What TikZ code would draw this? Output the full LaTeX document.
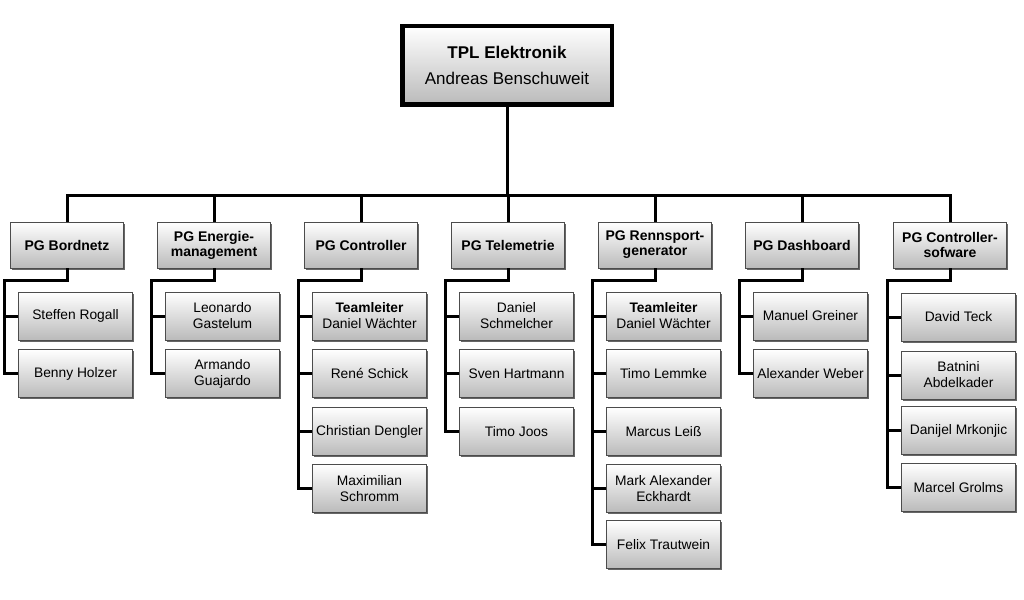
\documentclass[tikz,border=0pt]{standalone}
\usepackage{fontspec}
\setmainfont{Liberation Sans}
\usetikzlibrary{shadows,calc}
\begin{document}
\begin{tikzpicture}[x=1pt,y=-1pt,
  boxbase/.style={shape=rectangle, draw=black!70, line width=0.7pt,
    top color=white, bottom color=black!27,
    drop shadow={shadow xshift=1.8pt, shadow yshift=-1.8pt, fill=black!75, opacity=0.8},
    align=center, inner sep=0pt},
  grpbox/.style={boxbase, minimum width=113pt, minimum height=46pt,
    font=\fontsize{14}{15}\selectfont\bfseries},
  membox/.style={boxbase, minimum width=114pt, minimum height=48pt,
    font=\fontsize{13.8}{16}\selectfont},
  topbox/.style={shape=rectangle, draw=black, line width=4.5pt,
    top color=white, bottom color=black!27,
    drop shadow={shadow xshift=2pt, shadow yshift=-2pt, fill=black!60, opacity=0.6},
    minimum width=209.5pt, minimum height=78.5pt, align=center, inner sep=0pt,
    font=\fontsize{17}{25.5}\selectfont},
  conn/.style={line width=3pt, draw=black}]
\useasboundingbox (0,0) rectangle (1024,599);

% top
\node[topbox] (top) at (507,65.5) {\textbf{TPL Elektronik}\\Andreas Benschuweit};

% groups
\node[grpbox] (g1) at (67,245) {PG Bordnetz};
\node[grpbox] (g2) at (214,245) {PG Energie-\\management};
\node[grpbox] (g3) at (361,245) {PG Controller};
\node[grpbox] (g4) at (508,245) {PG Telemetrie};
\node[grpbox] (g5) at (655,245) {PG Rennsport-\\generator};
\node[grpbox] (g6) at (802,245) {PG Dashboard};
\node[grpbox] (g7) at (950,245) {PG Controller-\\sofware};

% members
\node[membox] (m11) at (75.5,316) {Steffen Rogall};
\node[membox] (m12) at (75.5,373.5) {Benny Holzer};

\node[membox] (m21) at (222.5,316) {Leonardo\\Gastelum};
\node[membox] (m22) at (222.5,373.5) {Armando\\Guajardo};

\node[membox] (m31) at (369.5,316) {\textbf{Teamleiter}\\Daniel Wächter};
\node[membox] (m32) at (369.5,373.5) {René Schick};
\node[membox] (m33) at (369.5,431.5) {Christian Dengler};
\node[membox] (m34) at (369.5,488.5) {Maximilian\\Schromm};

\node[membox] (m41) at (516.5,316) {Daniel\\Schmelcher};
\node[membox] (m42) at (516.5,373.5) {Sven Hartmann};
\node[membox] (m43) at (516.5,431.5) {Timo Joos};

\node[membox] (m51) at (663.5,316) {\textbf{Teamleiter}\\Daniel Wächter};
\node[membox] (m52) at (663.5,373.5) {Timo Lemmke};
\node[membox] (m53) at (663.5,431.5) {Marcus Leiß};
\node[membox] (m54) at (663.5,488.5) {Mark Alexander\\Eckhardt};
\node[membox] (m55) at (663.5,544.5) {Felix Trautwein};

\node[membox] (m61) at (810.5,316) {Manuel Greiner};
\node[membox] (m62) at (810.5,373.5) {Alexander Weber};

\node[membox] (m71) at (958.5,317) {David Teck};
\node[membox] (m72) at (958.5,375) {Batnini\\Abdelkader};
\node[membox] (m73) at (958.5,430.5) {Danijel Mrkonjic};
\node[membox] (m74) at (958.5,487.5) {Marcel Grolms};

% bus
\coordinate (bus) at (507,195);
\draw[conn] (top.south) -- (bus);
\draw[conn] (g1.north) |- (bus) -| (g7.north);
\foreach \g in {g2,g3,g4,g5,g6}{\draw[conn] (\g.north) -- (\g.north |- bus);}

% spines
\coordinate (s1) at (4.5,280);
\coordinate (s2) at (151.5,280);
\coordinate (s3) at (298.5,280);
\coordinate (s4) at (445.5,280);
\coordinate (s5) at (592.5,280);
\coordinate (s6) at (739.5,280);
\coordinate (s7) at (887.5,280);

\draw[conn] (g1.south) |- (s1) |- (m12.west);
\draw[conn] (m11.west -| s1) -- (m11.west);

\draw[conn] (g2.south) |- (s2) |- (m22.west);
\draw[conn] (m21.west -| s2) -- (m21.west);

\draw[conn] (g3.south) |- (s3) |- (m34.west);
\foreach \m in {m31,m32,m33}{\draw[conn] (\m.west -| s3) -- (\m.west);}

\draw[conn] (g4.south) |- (s4) |- (m43.west);
\foreach \m in {m41,m42}{\draw[conn] (\m.west -| s4) -- (\m.west);}

\draw[conn] (g5.south) |- (s5) |- (m55.west);
\foreach \m in {m51,m52,m53,m54}{\draw[conn] (\m.west -| s5) -- (\m.west);}

\draw[conn] (g6.south) |- (s6) |- (m62.west);
\draw[conn] (m61.west -| s6) -- (m61.west);

\draw[conn] (g7.south) |- (s7) |- (m74.west);
\foreach \m in {m71,m72,m73}{\draw[conn] (\m.west -| s7) -- (\m.west);}
\end{tikzpicture}
\end{document}
